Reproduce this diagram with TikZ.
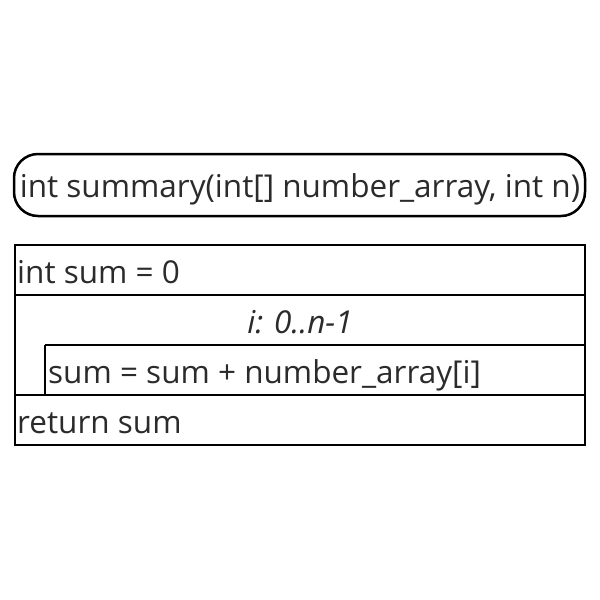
\documentclass[tikz,border=0pt]{standalone}
\usepackage{fontspec}
\setmainfont{Open Sans}
\definecolor{txt}{HTML}{2B2B2B}
\begin{document}
\begin{tikzpicture}[x=1pt,y=-1pt,
  frame/.style={draw=black,line width=2.5pt},
  lbl/.style={inner sep=0pt,text=txt,font=\fontsize{31.5}{36}\selectfont},
]
\useasboundingbox[fill=white] (0,0) rectangle (600,600);
% title
\node[frame,rounded corners=24pt,minimum width=571pt,minimum height=62pt,inner sep=0pt,outer sep=0pt] (title) at (299.5,185) {};
\node[lbl,anchor=base] (ttext) at (300,197) {int summary(int[] number\_array, int n)};
% structure
\node[frame,minimum width=570pt,minimum height=200pt,inner sep=0pt,outer sep=0pt,anchor=north west] (outer) at (15,245) {};
\coordinate (r1l) at (15,295); \coordinate (r1r) at (585,295);
\coordinate (r2l) at (45,345); \coordinate (r2r) at (585,345);
\coordinate (r3l) at (15,395); \coordinate (r3r) at (585,395);
\coordinate (r2b) at (45,395);
\draw[frame] (r1l) -- (r1r);
\draw[frame] (r2l) -- (r2r);
\draw[frame] (r3l) -- (r3r);
\draw[frame] (r2l) -- (r2b);
\node[lbl,anchor=base west] (s1) at (17,283) {int sum = 0};
\node[lbl,anchor=base,font=\fontsize{31.5}{36}\selectfont\itshape] (loop) at (300,333) {i: 0..n-1};
\node[lbl,anchor=base west] (body) at (48,383) {sum = sum + number\_array[i]};
\node[lbl,anchor=base west] (ret) at (17,433) {return sum};
\end{tikzpicture}
\end{document}
